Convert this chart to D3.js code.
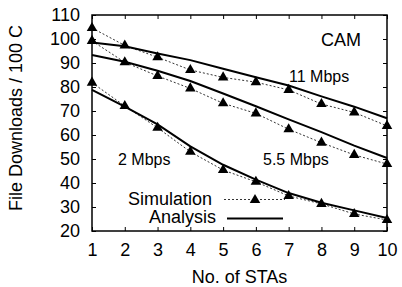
<!DOCTYPE html>
<html><head><meta charset="utf-8">
<script src="https://cdn.jsdelivr.net/npm/d3@7"></script>
<style>body{margin:0;background:#fff}svg{display:block}text{font-family:"Liberation Sans",Arial,sans-serif;fill:#000}</style>
</head><body><svg id="c" width="402" height="287"></svg>
<script>
const stas = [1,2,3,4,5,6,7,8,9,10];
const sim11 = [104.6,97.3,92.4,87.1,84.0,82.0,78.8,72.9,69.4,63.8];
const sim55 = [99.2,90.3,84.6,79.4,73.2,69.0,62.4,56.8,51.7,47.9];
const sim2  = [81.8,72.1,63.0,53.0,45.4,40.5,34.6,31.3,27.1,24.6];
const ana11 = [98.5,97.0,94.0,91.2,87.6,84.1,80.6,76.1,71.8,67.0];
const ana55 = [93.3,90.5,86.8,82.5,77.3,72.0,66.5,61.2,55.6,50.4];
const ana2  = [78.8,71.8,64.4,55.3,47.6,41.4,35.8,31.8,28.6,25.4];
const yTicks = [20,30,40,50,60,70,80,90,100,110];
const rateLabels = ["11 Mbps","5.5 Mbps","2 Mbps"];

const svg = d3.select("#c");
const L=92,R=387,T=15,B=231;
const x = d3.scaleLinear().domain([1,10]).range([L,R]);
const y = d3.scaleLinear().domain([20,110]).range([B,T]);

const g = svg.append("g");
const fs = "18px";
const ax = g.append("g").attr("transform",`translate(0,${B})`).call(d3.axisBottom(x).tickValues(stas).tickSizeInner(-4).tickSizeOuter(0).tickPadding(12));
const ay = g.append("g").attr("transform",`translate(${L},0)`).call(d3.axisLeft(y).tickValues(yTicks).tickSizeInner(-4).tickSizeOuter(0).tickPadding(12));
const axT = g.append("g").attr("transform",`translate(0,${T})`).call(d3.axisTop(x).tickValues(stas).tickSizeInner(-4).tickSizeOuter(0).tickFormat(""));
const ayR = g.append("g").attr("transform",`translate(${R},0)`).call(d3.axisRight(y).tickValues(yTicks).tickSizeInner(-4).tickSizeOuter(0).tickFormat(""));
[ax,ay,axT,ayR].forEach(a=>{a.select(".domain").remove();a.selectAll("line").attr("stroke","#000").attr("stroke-width",1);a.selectAll("text").style("font-size",fs).attr("fill","#000").style("font-family","Liberation Sans, Arial, sans-serif");});
g.append("rect").attr("x",L).attr("y",T).attr("width",R-L).attr("height",B-T).attr("fill","none").attr("stroke","#000").attr("stroke-width",1.5);

const line = d3.line().x((d,i)=>x(stas[i])).y(d=>y(d));
const sims=[sim11,sim55,sim2], anas=[ana11,ana55,ana2];
const tri = d3.symbol().type(d3.symbolTriangle).size(48);
sims.forEach(s=>{
  g.append("path").attr("d",line(s)).attr("fill","none").attr("stroke","#333").attr("stroke-width",1).attr("stroke-dasharray","2,2");
});
anas.forEach(s=>{
  g.append("path").attr("d",line(s)).attr("fill","none").attr("stroke","#000").attr("stroke-width",2);
});
sims.forEach(s=>{
  g.selectAll(null).data(s).enter().append("path").attr("d",tri).attr("transform",(d,i)=>`translate(${x(stas[i])},${y(d)})`).attr("fill","#000");
});

const txt=(t,xx,yy,anchor,size)=>g.append("text").attr("x",xx).attr("y",yy).attr("text-anchor",anchor||"start").style("font-size",size||fs).text(t);
txt("CAM",321,46);
txt(rateLabels[0],289,82,"start","16px");
txt(rateLabels[1],263,165,"start","16px");
txt(rateLabels[2],118,165,"start","16px");
// legend
txt("Simulation",212,205,"end");
txt("Analysis",216,223,"end");
g.append("line").attr("x1",224).attr("x2",285).attr("y1",199.5).attr("y2",199.5).attr("stroke","#333").attr("stroke-width",1).attr("stroke-dasharray","2,2");
g.append("path").attr("d",tri).attr("transform","translate(255,200)").attr("fill","#000");
g.append("line").attr("x1",227).attr("x2",283).attr("y1",218.5).attr("y2",218.5).attr("stroke","#000").attr("stroke-width",2);
// axis titles
txt("No. of STAs",(L+R)/2,283,"middle");
g.append("text").attr("transform",`translate(22,118) rotate(-90)`).attr("text-anchor","middle").style("font-size",fs).text("File Downloads / 100 C");
</script></body></html>
